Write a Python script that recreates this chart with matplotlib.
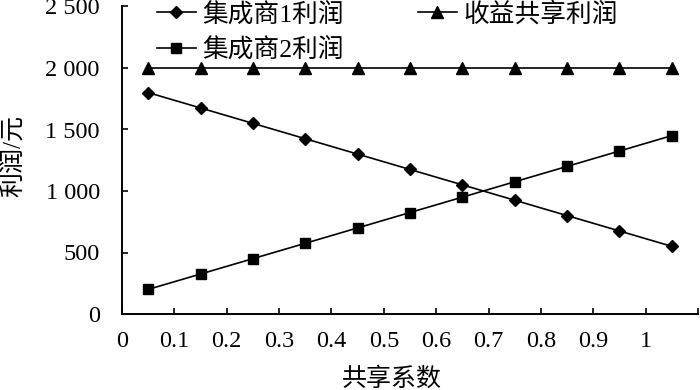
import matplotlib
matplotlib.use("Agg")
import matplotlib.pyplot as plt

plt.rcParams['font.family'] = ['Liberation Serif', 'Noto Sans CJK SC', 'DejaVu Sans']

share_coef = [0.05, 0.15, 0.25, 0.35, 0.45, 0.55, 0.65, 0.75, 0.85, 0.95, 1.05]
profit_int1 = [1800, 1675, 1550, 1425, 1300, 1175, 1050, 925, 800, 675, 550]
profit_int2 = [200, 325, 450, 575, 700, 825, 950, 1075, 1200, 1325, 1450]
profit_total = [2000, 2000, 2000, 2000, 2000, 2000, 2000, 2000, 2000, 2000, 2000]

x_ticks = [0, 0.1, 0.2, 0.3, 0.4, 0.5, 0.6, 0.7, 0.8, 0.9, 1.0, 1.1]
x_ticklabels = ["0", "0.1", "0.2", "0.3", "0.4", "0.5", "0.6", "0.7", "0.8", "0.9", "1", ""]
y_ticks = [0, 500, 1000, 1500, 2000, 2500]
y_ticklabels = ["0", "500", "1 000", "1 500", "2 000", "2 500"]

fig = plt.figure(figsize=(7, 3.9), dpi=100)
ax = fig.add_axes([122/700, 1 - 314/390, 576/700, 307.5/390])

lw = 1.2
l1, = ax.plot(share_coef, profit_int1, color='black', lw=lw, marker='D', markersize=6.5, label='集成商1利润')
l2, = ax.plot(share_coef, profit_int2, color='black', lw=lw, marker='s', markersize=6.5, label='集成商2利润')
l3, = ax.plot(share_coef, profit_total, color='black', lw=lw, marker='^', markersize=8, label='收益共享利润')

ax.set_xlim(0, 1.1)
ax.set_ylim(0, 2500)
ax.set_xticks(x_ticks)
ax.set_xticklabels(x_ticklabels)
ax.set_yticks(y_ticks)
ax.set_yticklabels(y_ticklabels)

for s in ['top', 'right']:
    ax.spines[s].set_visible(False)
for s in ['left', 'bottom']:
    ax.spines[s].set_linewidth(1.4)
    ax.spines[s].set_color('black')

ax.tick_params(axis='both', direction='in', length=4, width=1.2, labelsize=17.5, colors='black')
ax.tick_params(axis='y', pad=16)
ax.tick_params(axis='x', pad=12.5)

ax.set_xlabel('共享系数', fontsize=18)
ax.xaxis.set_label_coords(0.469, -0.173)
ax.set_ylabel('利润/元', fontsize=18)
ax.yaxis.set_label_coords(-0.168, 0.514)

leg = fig.legend(handles=[l1, l2, l3], ncol=2, loc='upper left',
                 bbox_to_anchor=(157/700, 0.995), frameon=False, fontsize=18.5,
                 handlelength=1.5, handletextpad=0.25, columnspacing=2.9,
                 labelspacing=0.42, borderpad=0, borderaxespad=0)

fig.savefig('out.png', dpi=100)
